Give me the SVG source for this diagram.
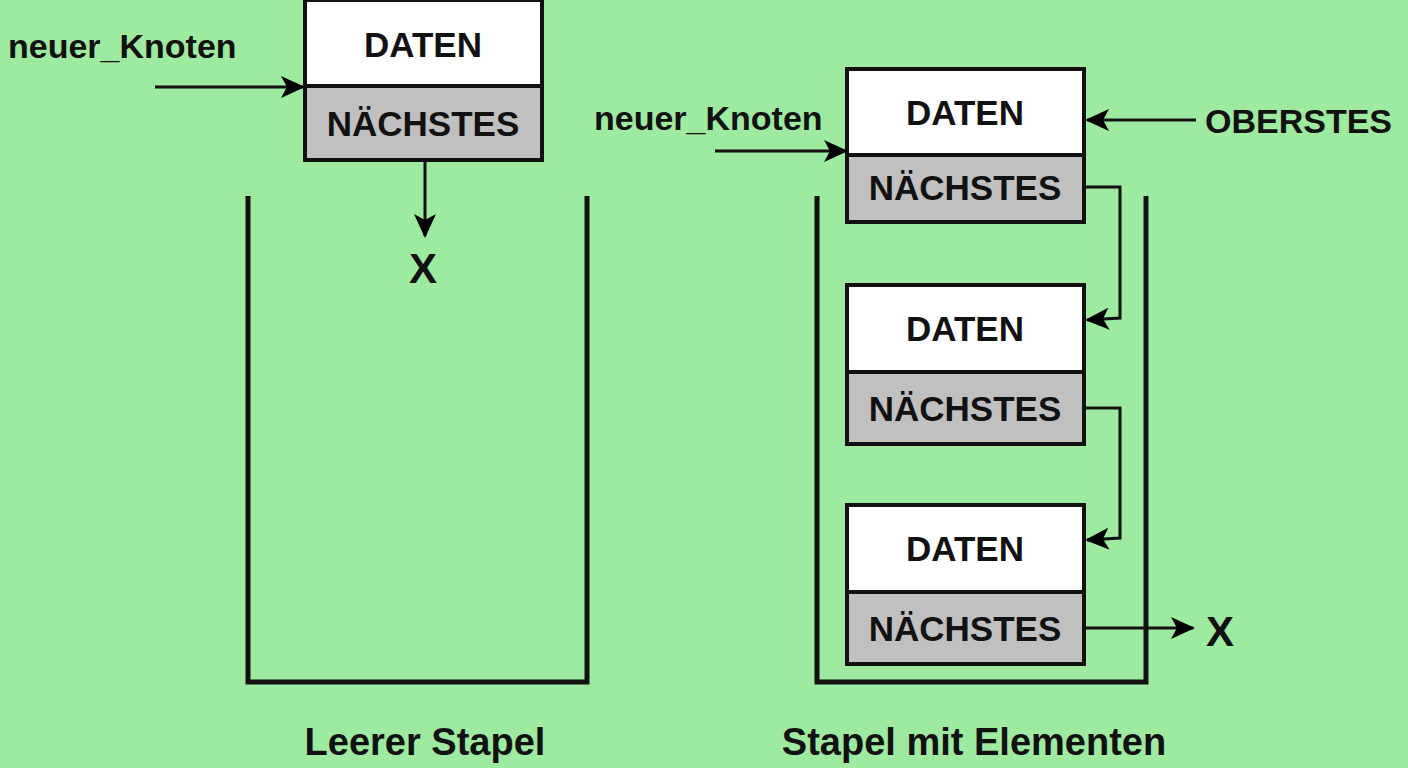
<svg xmlns="http://www.w3.org/2000/svg" width="1408" height="768" viewBox="0 0 1408 768">
<defs>
<marker id="ah" markerWidth="24" markerHeight="22" refX="22" refY="11" orient="auto" markerUnits="userSpaceOnUse" viewBox="0 0 24 22">
<path d="M0,0 L24,11 L0,22 L6,11 z" fill="#000"/>
</marker>
<style>
text{font-family:"Liberation Sans",Arial,sans-serif;font-weight:bold;fill:#111}
.d{fill:#fff;stroke:#111;stroke-width:4}
.n{fill:#c0c0c0;stroke:#111;stroke-width:4}
.t{font-size:35px;text-anchor:middle}
.l{font-size:34px}
.c{fill:none;stroke:#111;stroke-width:3}
.a{fill:none;stroke:#111;stroke-width:3;marker-end:url(#ah)}
.w{fill:none;stroke:#111;stroke-width:5}
</style>
</defs>
<rect width="1408" height="768" fill="#9eeaa0"/>
<g id="containers">
<path class="w" d="M248,196 V682 H587 V196"/>
<path class="w" d="M817,196 V682 H1146 V196"/>
</g>
<g id="node-left">
<rect class="d" x="305" y="0" width="237" height="86"/>
<rect class="n" x="305" y="86" width="237" height="74"/>
<text class="t" x="423" y="57">DATEN</text>
<text class="t" x="423" y="136">NÄCHSTES</text>
</g>
<g id="node1">
<rect class="d" x="847" y="69" width="237" height="86"/>
<rect class="n" x="847" y="155" width="237" height="67"/>
<text class="t" x="965" y="125">DATEN</text>
<text class="t" x="965" y="200">NÄCHSTES</text>
</g>
<g id="node2">
<rect class="d" x="847" y="285" width="237" height="87"/>
<rect class="n" x="847" y="372" width="237" height="72"/>
<text class="t" x="965" y="341">DATEN</text>
<text class="t" x="965" y="421">NÄCHSTES</text>
</g>
<g id="node3">
<rect class="d" x="847" y="505" width="237" height="87"/>
<rect class="n" x="847" y="592" width="237" height="72"/>
<text class="t" x="965" y="561">DATEN</text>
<text class="t" x="965" y="641">NÄCHSTES</text>
</g>
<g id="labels">
<text class="l" x="8" y="58">neuer_Knoten</text>
<text class="l" x="594" y="130">neuer_Knoten</text>
<text class="l" x="1205" y="133">OBERSTES</text>
<text x="423" y="283" font-size="42" text-anchor="middle">X</text>
<text x="1220" y="646" font-size="42" text-anchor="middle">X</text>
<text x="425" y="755" font-size="38" text-anchor="middle">Leerer Stapel</text>
<text x="974" y="755" font-size="38" text-anchor="middle">Stapel mit Elementen</text>
</g>
<g id="connectors">
<line class="a" x1="155" y1="87" x2="303" y2="87"/>
<line class="a" x1="425" y1="160" x2="425" y2="236"/>
<line class="a" x1="715" y1="151" x2="846" y2="151"/>
<line class="a" x1="1196" y1="120" x2="1087" y2="120"/>
<polyline class="a" points="1084,187 1120,187 1120,318 1087,320"/>
<polyline class="a" points="1084,408 1120,408 1120,538 1087,540"/>
<line class="a" x1="1084" y1="628" x2="1193" y2="628"/>
</g>
</svg>
